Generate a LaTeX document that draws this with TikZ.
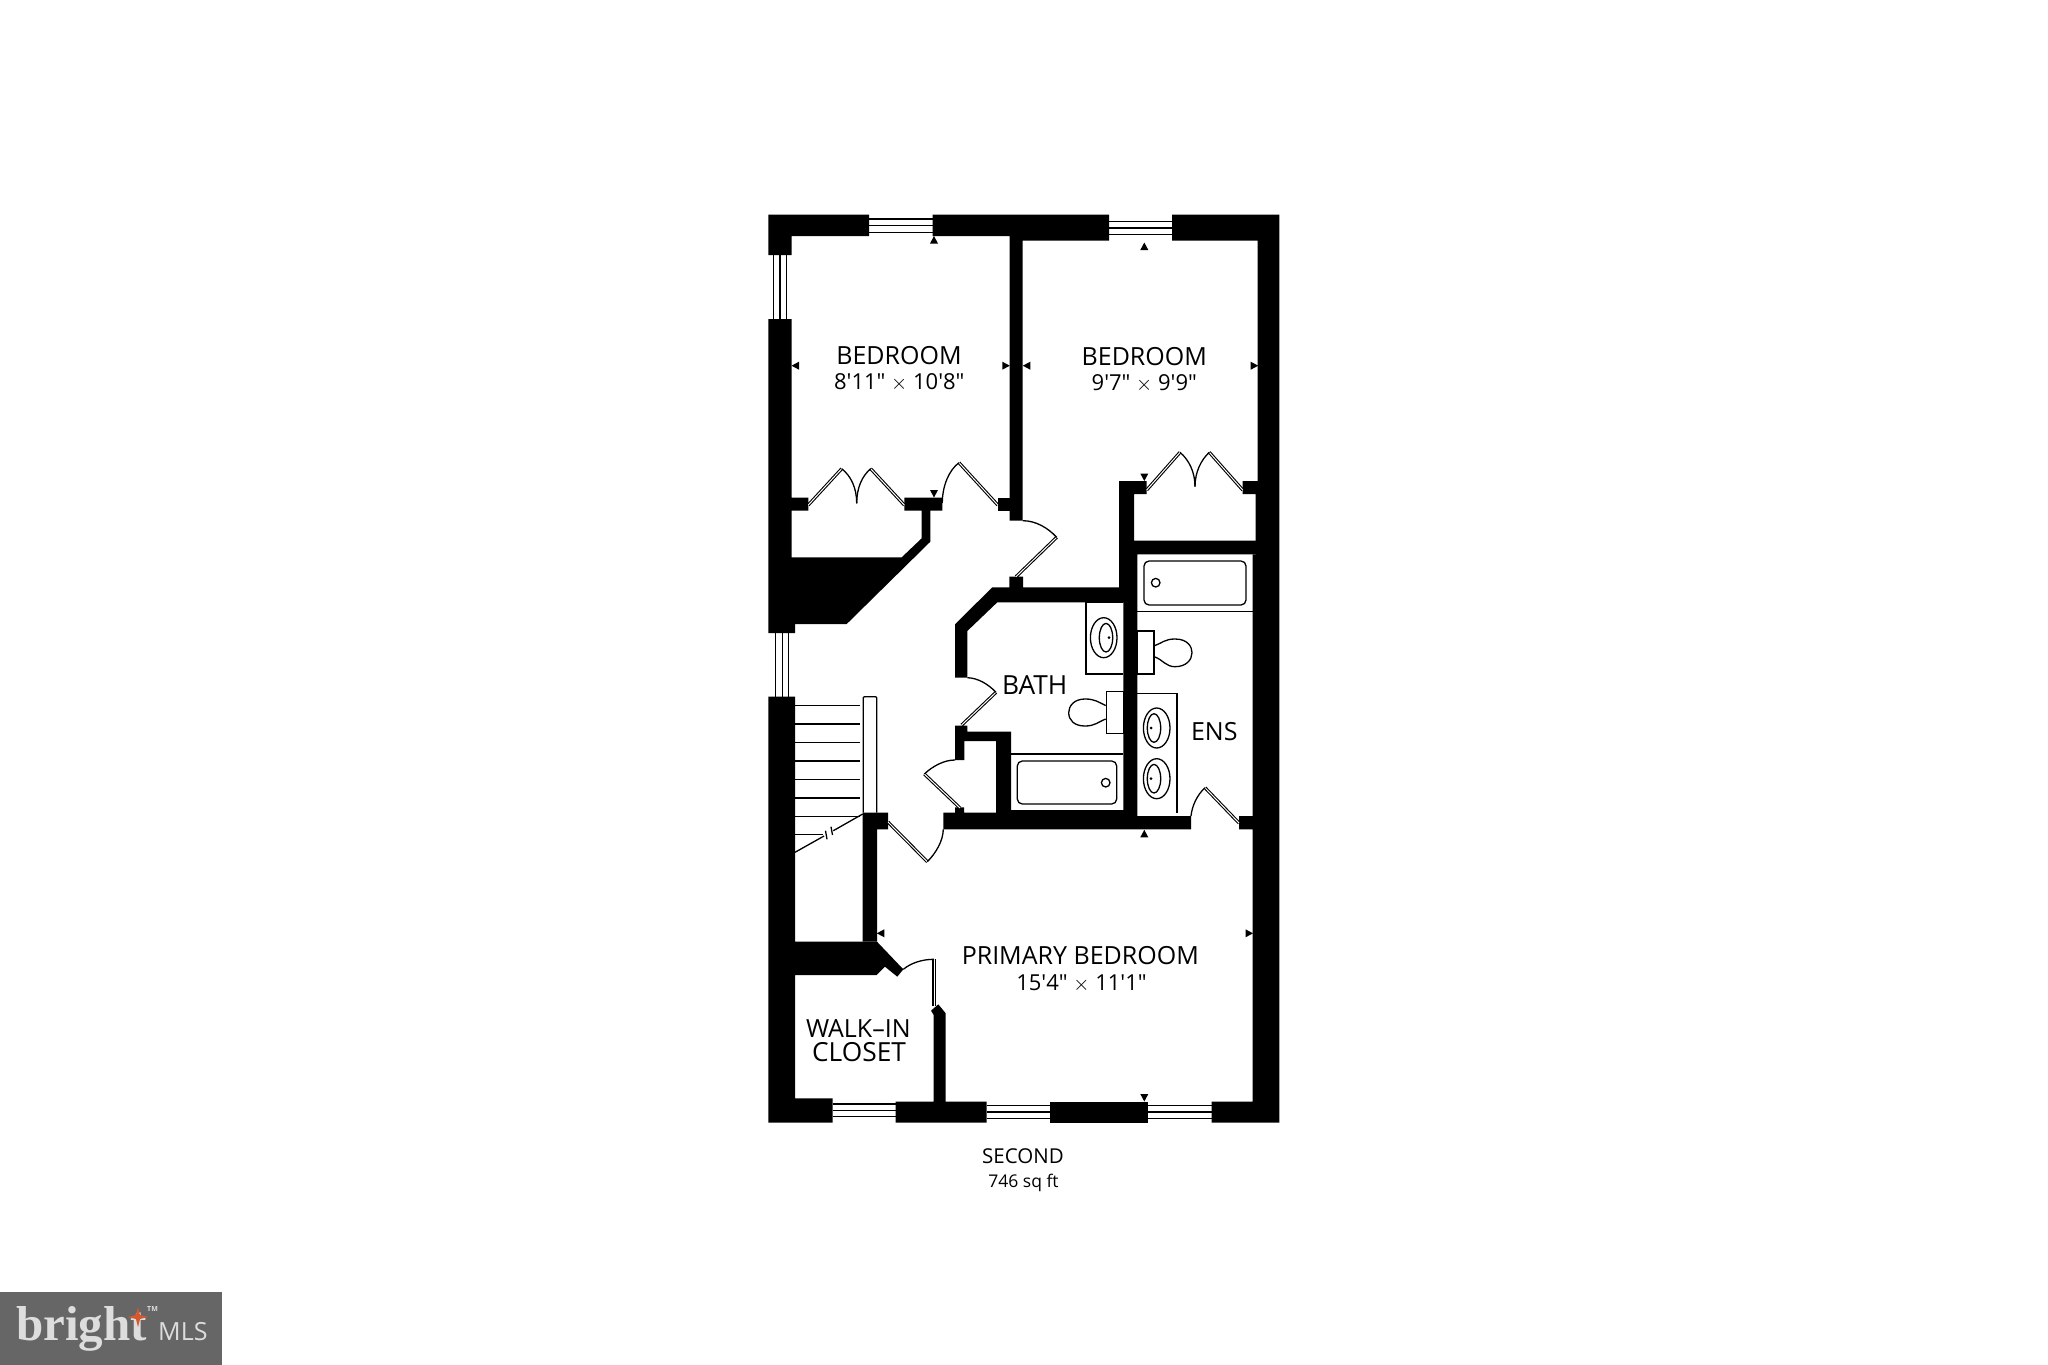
\documentclass[tikz,border=0pt]{standalone}
\usepackage{fontspec}
\newfontfamily\planfont{Open Sans}
\newfontfamily\logofont{Liberation Serif}
\newcommand{\fsize}[1]{\fontsize{#1}{#1}\selectfont}
\definecolor{logogray}{HTML}{666666}
\definecolor{logotext}{HTML}{DDDDDD}
\definecolor{logostar}{HTML}{D9582B}
\begin{document}
\begin{tikzpicture}[x=1pt,y=-1pt,
    wall/.style={fill=black},
    thinline/.style={draw=black,line width=1.3pt},
    door/.style={draw=black,double=white,line width=1.1pt,double distance=1pt},
    roomname/.style={font=\planfont\fsize{25}},
    roomnamewide/.style={font=\planfont\fsize{26.3}},
    roomsize/.style={font=\planfont\fsize{22}},
    floorname/.style={font=\planfont\fsize{20.5}}]
  \useasboundingbox (0,0) rectangle (2048,1365);
  % outer walls
  \fill[wall] (768.3,214.7) -- (869,214.7) -- (869,236) -- (791.7,236) -- (791.7,255) -- (768.3,255) -- cycle;
  \fill[wall] (932.7,214.7) -- (1109,214.7) -- (1109,240.7) -- (1022.7,240.7) -- (1022.7,520.7) -- (1009.7,520.7) -- (1009.7,236) -- (932.7,236) -- cycle;
  \fill[wall] (1172,214.7) -- (1279.3,214.7) -- (1279.3,1122.7) -- (1211.7,1122.7) -- (1211.7,1101.7) -- (1252.7,1101.7) -- (1252.7,829.3) -- (1239,829.3) -- (1239,816) -- (1252.7,816) -- (1252.7,554.3) -- (1255.7,554.3) -- (1255.7,494) -- (1242.7,494) -- (1242.7,481) -- (1257.7,481) -- (1257.7,240.7) -- (1172,240.7) -- cycle;
  \fill[wall] (768.3,319) -- (791.7,319) -- (791.7,497.7) -- (808.3,497.7) -- (808.3,510.7) -- (791.7,510.7) -- (791.7,557.3) -- (901.7,557.3) -- (921.7,538.3) -- (921.7,510.7) -- (904.3,510.7) -- (904.3,497.7) -- (942.3,497.7) -- (942.3,510.7) -- (930.3,510.7) -- (930.3,541.7) -- (846.7,624) -- (795,624) -- (795,633) -- (768.3,633) -- cycle;
  \fill[wall] (768.3,696.7) -- (795,696.7) -- (795,941.7) -- (877,941.7) -- (903.3,969.3) -- (897.3,976.7) -- (885,966.7) -- (876.7,975) -- (795,975) -- (795,1098.3) -- (832.7,1098.3) -- (832.7,1122.7) -- (768.3,1122.7) -- cycle;
  \fill[wall] (895.7,1101.7) -- (933.7,1101.7) -- (933.7,1015) -- (931,1010.7) -- (938.3,1004.3) -- (945.7,1013.3) -- (945.7,1101.7) -- (986.7,1101.7) -- (986.7,1122.7) -- (895.7,1122.7) -- cycle;
  \fill[wall] (1050,1101.7) rectangle (1148.3,1122.7);
  % inner walls
  \fill[wall] (997.7,497.7) rectangle (1010,510.7);
  \fill[wall] (1119,481) -- (1146.7,481) -- (1146.7,494) -- (1134,494) -- (1134,540.7) -- (1256,540.7) -- (1256,554.3) -- (1137.3,554.3) -- (1137.3,816) -- (1191,816) -- (1191,829.3) -- (943.3,829.3) -- (943.3,812.7) -- (955,812.7) -- (955,807.3) -- (964,807.3) -- (964,812.7) -- (996,812.7) -- (996,741) -- (964.3,741) -- (964.3,760) -- (955,760) -- (955,725.7) -- (967.3,725.7) -- (967.3,731.7) -- (1011,731.7) -- (1011,810) -- (1123.3,810) -- (1123.3,602.3) -- (997.3,602.3) -- (967.3,631) -- (967.3,677.7) -- (955,677.7) -- (955,624.3) -- (992.3,587.3) -- (1009.3,587.3) -- (1009.3,576.7) -- (1023,576.7) -- (1023,587.3) -- (1119,587.3) -- cycle;
  \fill[wall] (862.7,812.7) -- (888,812.7) -- (888,829.3) -- (877,829.3) -- (877,941.7) -- (862.7,941.7) -- cycle;
  % windows
  \foreach \y in {219,225.7,232.3} \draw[thinline] (869,\y) -- (932.7,\y);
  \foreach \y in {221.3,228,234.7} \draw[thinline] (1109,\y) -- (1172,\y);
  \foreach \x in {773.3,780,786.7} \draw[thinline] (\x,255) -- (\x,319);
  \foreach \x in {775.7,782.3,788.3} \draw[thinline] (\x,633) -- (\x,696.7);
  \foreach \y in {1104,1110.3,1116.3} \draw[thinline] (832.7,\y) -- (895.7,\y);
  \foreach \y in {1105.7,1112,1118.3} {
    \draw[thinline] (986.7,\y) -- (1050,\y);
    \draw[thinline] (1148.3,\y) -- (1211.7,\y);
  }
  % doors
  \draw[door] (808.3,505) -- (841.7,468.7);
  \draw[door] (904.3,505) -- (870.7,468.7);
  \draw[door] (997.7,505) -- (959,462.7);
  \draw[door] (1146.7,490) -- (1180,452.3);
  \draw[door] (1242.7,490) -- (1209.3,452.3);
  \draw[door] (1056.7,537.3) -- (1016,576.7);
  \draw[door] (996,692.3) -- (961.7,725);
  \draw[door] (924.3,774) -- (960,808);
  \draw[door] (888,822) -- (927.3,861.7);
  \draw[door] (1205,787.7) -- (1239,823);
  \draw[door] (934,959.3) -- (934,1006);
  \draw[thinline] (841.7,468.7) .. controls (851,476) and (856.7,488) .. (856.7,503.3);
  \draw[thinline] (870.7,468.7) .. controls (862,476) and (856.7,488) .. (856.7,503.3);
  \draw[thinline] (959,462.7) .. controls (949,470) and (942.3,486) .. (942.3,503);
  \draw[thinline] (1180,452.3) .. controls (1189,460) and (1195,472) .. (1195,486.7);
  \draw[thinline] (1209.3,452.3) .. controls (1201,460) and (1195,472) .. (1195,486.7);
  \draw[thinline] (1022.7,520.7) .. controls (1036,520.7) and (1048,528) .. (1056.7,537.3);
  \draw[thinline] (967.3,677.7) .. controls (978,678) and (988,684) .. (996,692.3);
  \draw[thinline] (955,760) .. controls (944,760) and (933,766) .. (924.3,774);
  \draw[thinline] (943.3,829.3) .. controls (943,841) and (936,853) .. (927.3,861.7);
  \draw[thinline] (1191,816) .. controls (1192,806) and (1197,795) .. (1205,787.7);
  \draw[thinline] (903.3,969.3) .. controls (911,963) and (922,959.3) .. (934,959.3);
  % stairs
  \draw[thinline,rounded corners=1pt] (863.3,812.7) -- (863.3,696.7) -- (876.7,696.7) -- (876.7,812.7);
  \foreach \y in {705.3,723.9,742.4,761,779.5,798.1,816.6} \draw[thinline] (795,\y) -- (860,\y);
  \draw[thinline] (795,834.7) -- (822.7,834.7);
  \draw[thinline] (795,852.3) -- (824,836);
  \draw[thinline] (833.3,830.7) -- (862.7,814);
  \draw[thinline] (825.5,830.7) -- (827,839.3);
  \draw[thinline] (831,826.7) -- (832.5,835);
  % markers
  \foreach \x/\y/\r in {934/243.5/0,1144.3/250/0,1144.3/837.3/0,934/490/180,1144.3/473.5/180,1144.3/1094/180,799/365.7/90,1030.3/365.7/90,884.3/933.3/90,1002.3/365.7/-90,1250.7/365.7/-90,1245.5/933.3/-90}
    \fill[wall,shift={(\x,\y)},rotate=\r] (-4,0) -- (4,0) -- (0,-7.5) -- cycle;
  % ens fixtures
  \draw[thinline] (1137.3,611.7) -- (1252.7,611.7);
  \draw[thinline,rounded corners=5pt] (1144,561) rectangle (1246,605);
  \draw[thinline] (1155.7,582.7) circle (4.3);
  \draw[thinline] (1137.3,631) rectangle (1154,674);
  \draw[thinline] (1155,645.5) .. controls (1162,643) and (1165,639) .. (1175,639) .. controls (1188,639) and (1192,647) .. (1192,652.7) .. controls (1192,660) and (1186,666.7) .. (1175,666.7) .. controls (1166,666.7) and (1163,660) .. (1155,657);
  \draw[thinline] (1137.3,693.3) -- (1177,693.3) -- (1177,813.3);
  \foreach \y in {728,778.7} {
    \draw[thinline] (1156.7,\y) ellipse (13.3 and 20);
    \draw[thinline] (1154,\y) ellipse (6.7 and 14.3);
    \fill[wall] (1151,\y) circle (1.5);
  }
  % bath fixtures
  \draw[thinline] (1123.3,602.3) -- (1086,602.3) -- (1086,674) -- (1123.3,674);
  \draw[thinline] (1103.7,637.7) ellipse (13.3 and 20);
  \draw[thinline] (1106,637.7) ellipse (6.7 and 14.3);
  \fill[wall] (1109,637.7) circle (1.5);
  \draw[thinline] (1106.7,691.3) rectangle (1123.3,733.7);
  \draw[thinline] (1105.7,705.5) .. controls (1098,702) and (1095,699) .. (1085,699) .. controls (1074,699) and (1068.7,706) .. (1068.7,712.7) .. controls (1068.7,720) and (1074,726) .. (1085,726) .. controls (1095,726) and (1098,722) .. (1105.7,719);
  \draw[thinline] (1011,754) -- (1123.3,754);
  \draw[thinline,rounded corners=5pt] (1017.3,761) rectangle (1116.7,804);
  \draw[thinline] (1105.7,782.7) circle (4.3);
  % labels
  \node[roomname] (bedroomA) at (899,356) {BEDROOM};
  \node[roomsize] (sizeA) at (899.3,382.7) {8'11" \(\times\) 10'8"};
  \node[roomname] (bedroomB) at (1144.3,356.7) {BEDROOM};
  \node[roomsize] (sizeB) at (1144.3,383.3) {9'7" \(\times\) 9'9"};
  \node[roomnamewide] (bath) at (1034.7,684.7) {BATH};
  \node[roomname] (ens) at (1214.3,731.7) {ENS};
  \node[roomname] (primary) at (1080.3,956) {PRIMARY BEDROOM};
  \node[roomsize] (sizeC) at (1081.5,983.3) {15'4" \(\times\) 11'1"};
  \node[roomname] (walkin) at (858.3,1028.3) {WALK–IN};
  \node[roomnamewide] (closet) at (859,1052.3) {CLOSET};
  \node[floorname] (floor) at (1023,1156) {SECOND};
  \node[font=\planfont\fsize{17.5},anchor=base] (area) at (1023.5,1187.5) {746 sq ft};
  % logo
  \fill[logogray] (0,1292.3) rectangle (222,1365);
  \node[font=\logofont\bfseries\fsize{49},text=logotext,anchor=base west,inner sep=0pt] (bright) at (16,1340) {bright};
  \node[font=\planfont\fsize{25},text=logotext,anchor=base west,inner sep=0pt] (mls) at (158,1340) {MLS};
  \node[font=\planfont\bfseries\fsize{7},text=logotext,anchor=base west,inner sep=0pt] (tm) at (147,1311) {TM};
  \fill[logostar] (138,1307) -- (140,1315) -- (148,1317) -- (140,1319) -- (138,1327) -- (136,1319) -- (128,1317) -- (136,1315) -- cycle;
\end{tikzpicture}
\end{document}
